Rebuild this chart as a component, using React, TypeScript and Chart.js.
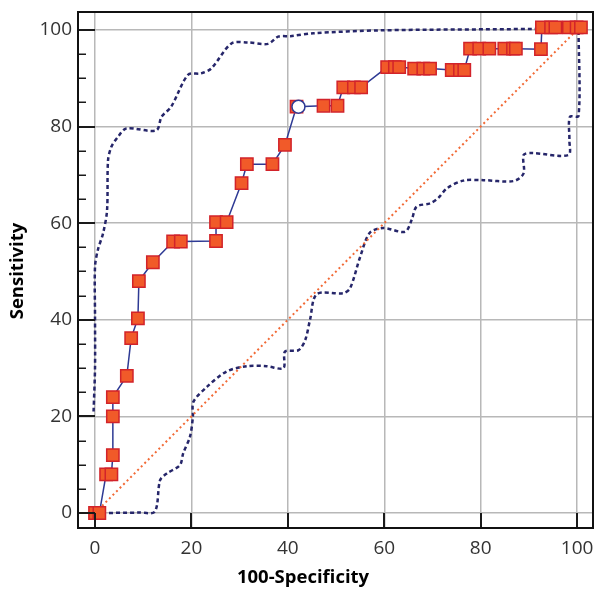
import React, { useEffect, useRef } from 'react';
import { Chart, registerables } from 'chart.js';

Chart.register(...registerables);

// ROC curve points (100-Specificity, Sensitivity)
const rocX = [0, 0.9, 2.3, 3.4, 3.7, 3.7, 3.7, 6.6, 7.5, 8.9, 9.1, 12.0, 16.2, 17.8, 25.1, 25.1, 27.3, 30.4, 31.5, 36.8, 39.4, 41.8, 47.4, 50.3, 51.5, 53.7, 55.2, 60.6, 62.2, 63.1, 66.2, 68.1, 69.5, 74.0, 75.7, 76.6, 77.8, 79.7, 81.8, 84.9, 86.7, 87.3, 92.5, 92.7, 94.6, 95.5, 98.3, 99.9, 100.8];
const rocY = [0, 0, 8, 8, 12, 20, 24, 28.4, 36.2, 40.3, 48, 51.9, 56.2, 56.2, 56.3, 60.2, 60.2, 68.3, 72.2, 72.2, 76.2, 84.1, 84.3, 84.3, 88.1, 88.1, 88.1, 92.3, 92.3, 92.3, 92.0, 92.0, 92.0, 91.7, 91.7, 91.7, 96.1, 96.1, 96.1, 96.1, 96.1, 96.1, 96.0, 100.5, 100.5, 100.5, 100.5, 100.5, 100.5];

// Optimal criterion marker
const critX = [42.2];
const critY = [84.1];

// Upper confidence bound
const upperX = [-0.3, 0, 0, 0, 0.6, 1.7, 2.5, 2.7, 3.4, 4.8, 6.5, 12.7, 13.8, 15.8, 19.3, 22, 24.1, 28.3, 31.7, 35.9, 38, 40.5, 45.3, 59.1, 90.9, 100];
const upperY = [21, 30, 40.6, 51, 54.5, 58, 62.7, 73, 75.8, 77.9, 79.6, 79.2, 82, 84.1, 90.7, 91, 92, 97.2, 97.4, 97.1, 98.6, 98.7, 99.3, 99.9, 100.2, 100.4];

// Lower confidence bound
const lowerX = [0, 9.3, 12.4, 13.5, 14.9, 17.6, 18.3, 19.7, 20.3, 20.4, 23.2, 27.3, 31.5, 35.6, 39.1, 39.4, 42.2, 43.6, 44.6, 46, 51.5, 52.9, 55, 57, 59.8, 64.3, 65.7, 66.7, 69.5, 71.2, 73, 76.4, 80.6, 86.8, 88.9, 88.9, 90.6, 98.2, 98.4, 98.5, 100.3, 100.3];
const lowerY = [0, 0.1, 0.3, 6.8, 8.2, 9.9, 12.4, 15.8, 19.9, 23, 26.1, 29.3, 30.4, 30.4, 30, 33.4, 33.7, 35.8, 40, 45.3, 45.5, 46.5, 53, 58, 59, 58.2, 60.7, 63.4, 64.1, 65.2, 67.2, 68.8, 68.9, 68.7, 70.3, 74.1, 74.5, 74.1, 77.2, 82, 82.2, 100];

// Reference diagonal
const diagX = [0, 100];
const diagY = [0, 100];

const xTicks = [0, 20, 40, 60, 80, 100];
const yTicks = [0, 20, 40, 60, 80, 100];
const yMinorTicks = [5, 10, 15, 25, 30, 35, 45, 50, 55, 65, 70, 75, 85, 90, 95];
const xTitle = '100-Specificity';
const yTitle = 'Sensitivity';

const zip = (xs: number[], ys: number[]) => xs.map((x, i) => ({ x, y: ys[i] }));

const FONT = '"Open Sans", "DejaVu Sans", sans-serif';

const framePlugin = {
  id: 'frameTicks',
  afterDraw(chart: any) {
    const { ctx, chartArea: a, scales } = chart;
    const xs = scales.x;
    const ys = scales.y;
    ctx.save();
    ctx.strokeStyle = '#1a1a1a';
    ctx.lineWidth = 2;
    yTicks.forEach((v) => {
      const p = Math.round(ys.getPixelForValue(v));
      ctx.beginPath();
      ctx.moveTo(a.left, p);
      ctx.lineTo(a.left + 17, p);
      ctx.stroke();
    });
    ctx.lineWidth = 1.5;
    yMinorTicks.forEach((v) => {
      const p = Math.round(ys.getPixelForValue(v)) + 0.25;
      ctx.beginPath();
      ctx.moveTo(a.left, p);
      ctx.lineTo(a.left + 8, p);
      ctx.stroke();
    });
    ctx.lineWidth = 2;
    xTicks.forEach((v) => {
      const p = Math.round(xs.getPixelForValue(v));
      ctx.beginPath();
      ctx.moveTo(p, a.bottom);
      ctx.lineTo(p, a.bottom - 15);
      ctx.stroke();
    });
    ctx.lineWidth = 2;
    ctx.strokeStyle = '#111';
    ctx.strokeRect(a.left, a.top, a.right - a.left, a.bottom - a.top);
    ctx.fillStyle = '#000';
    ctx.font = `bold 18.5px ${FONT}`;
    ctx.textAlign = 'center';
    ctx.textBaseline = 'middle';
    ctx.fillText(xTitle, 303, 578);
    ctx.translate(18, 271);
    ctx.rotate(-Math.PI / 2);
    ctx.fillText(yTitle, 0, 0);
    ctx.restore();
  },
};

const zeroPad = (s: any) => {
  s.paddingTop = 0;
  s.paddingBottom = 0;
  s.paddingLeft = 0;
  s.paddingRight = 0;
};

export default function App() {
  const ref = useRef<HTMLCanvasElement | null>(null);
  useEffect(() => {
    if (!ref.current) return;
    const chart = new Chart(ref.current, {
      type: 'scatter',
      data: {
        datasets: [
          {
            data: zip(critX, critY),
            showLine: false,
            pointStyle: 'circle',
            pointRadius: 6.5,
            pointBackgroundColor: '#ffffff',
            pointBorderColor: '#2e3a94',
            pointBorderWidth: 1.5,
          },
          {
            data: zip(rocX, rocY),
            showLine: true,
            borderColor: '#2e3a94',
            borderWidth: 1.5,
            pointStyle: 'rect',
            pointRadius: 8.7,
            pointBackgroundColor: '#f15a29',
            pointBorderColor: '#d2232a',
            pointBorderWidth: 1.5,
          },
          {
            data: zip(diagX, diagY),
            showLine: true,
            borderColor: '#f26a36',
            borderWidth: 2,
            borderDash: [2, 3],
            pointRadius: 0,
          },
          {
            data: zip(upperX, upperY),
            showLine: true,
            borderColor: '#26266a',
            borderWidth: 2.5,
            borderDash: [4, 3],
            pointRadius: 0,
            tension: 0.3,
          },
          {
            data: zip(lowerX, lowerY),
            showLine: true,
            borderColor: '#26266a',
            borderWidth: 2.5,
            borderDash: [4, 3],
            pointRadius: 0,
            tension: 0.3,
          },
        ],
      },
      options: {
        responsive: false,
        animation: false,
        layout: { autoPadding: false, padding: { top: 12, right: 2, left: 0, bottom: 0 } },
        plugins: { legend: { display: false }, tooltip: { enabled: false } },
        scales: {
          x: {
            type: 'linear',
            min: -3.53,
            max: 103.3,
            afterBuildTicks: (s: any) => {
              s.ticks = xTicks.map((v) => ({ value: v }));
            },
            afterFit: (s: any) => {
              s.height = 62;
              zeroPad(s);
            },
            grid: { color: '#b8b8b8', lineWidth: 1.5, drawTicks: false },
            border: { display: false },
            ticks: { padding: 9, color: '#333', font: { family: FONT, size: 19 } },
          },
          y: {
            type: 'linear',
            min: -3.1,
            max: 103.7,
            afterBuildTicks: (s: any) => {
              s.ticks = yTicks.map((v) => ({ value: v }));
            },
            afterFit: (s: any) => {
              s.width = 78;
              zeroPad(s);
            },
            grid: { color: '#b8b8b8', lineWidth: 1.5, drawTicks: false },
            border: { display: false },
            ticks: { padding: 6, color: '#333', font: { family: FONT, size: 19 } },
          },
        },
      },
      plugins: [framePlugin],
    });
    return () => chart.destroy();
  }, []);
  return (
    <div style={{ position: 'fixed', left: 0, top: 0, width: 595, height: 590, background: '#fff' }}>
      <canvas ref={ref} width={595} height={590} style={{ display: 'block' }} />
    </div>
  );
}
